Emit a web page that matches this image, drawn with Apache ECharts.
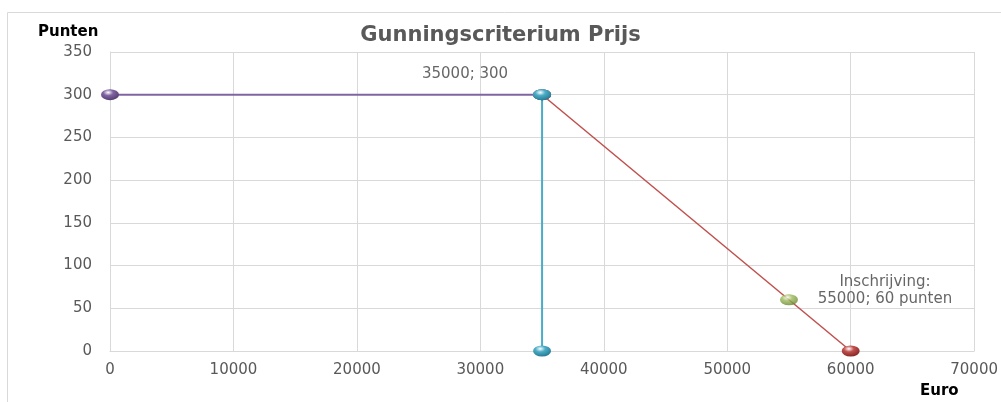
<!DOCTYPE html>
<html><head><meta charset="utf-8">
<script src="https://cdn.jsdelivr.net/npm/echarts@6/dist/echarts.min.js"></script>
<style>html,body{margin:0;padding:0;background:#fff}#c{width:1001px;height:402px}</style>
</head><body><div id="c"></div>
<script>
const title = 'Gunningscriterium Prijs';
const yName = 'Punten';
const xName = 'Euro';
const purpleLine = [[0, 300], [35000, 300]];
const cyanLine = [[35000, 300], [35000, 0]];
const redLine = [[35000, 300], [60000, 0]];
const bidPoint = [[55000, 60]];
const cornerLabel = '35000; 300';
const bidLabel = 'Inschrijving:\n55000; 60 punten';

const FONT = 'DejaVu Sans';
function ball(c1, c2) {
  return { type: 'radial', x: 0.4, y: 0.3, r: 0.8,
    colorStops: [{offset: 0, color: '#ffffff'}, {offset: 0.35, color: c1}, {offset: 1, color: c2}] };
}
const chart = echarts.init(document.getElementById('c'));
chart.setOption({
  animation: false,
  graphic: [{ type: 'rect', shape: {x: 7.5, y: 12.5, width: 1100, height: 500},
    style: {fill: 'none', stroke: '#D9D9D9', lineWidth: 1}, silent: true },
    { type: 'text', left: 38, top: 25, style: {text: yName, font: 'bold 15px ' + FONT, fill: '#000'} },
    { type: 'text', left: 920, top: 384, style: {text: xName, font: 'bold 15px ' + FONT, fill: '#000'} }],
  title: { text: title, left: 'center', top: 20,
    textStyle: { fontFamily: FONT, fontSize: 21, fontWeight: 'bold', color: '#595959' } },
  grid: { left: 110, right: 25, top: 52, bottom: 51, containLabel: false },
  xAxis: { type: 'value', min: 0, max: 70000, interval: 10000,
    axisLine: { show: true, lineStyle: { color: '#D9D9D9' } },
    axisTick: { show: false },
    splitLine: { show: true, lineStyle: { color: '#D9D9D9' } },
    axisLabel: { fontFamily: FONT, fontSize: 15, color: '#595959', margin: 12,
      formatter: v => String(v) } },
  yAxis: { type: 'value', min: 0, max: 350, interval: 50,
    axisLine: { show: true, lineStyle: { color: '#D9D9D9' } },
    axisTick: { show: false },
    splitLine: { show: true, lineStyle: { color: '#D9D9D9' } },
    axisLabel: { fontFamily: FONT, fontSize: 15, color: '#595959', margin: 18 } },
  series: [
    { type: 'line', data: purpleLine, symbol: 'circle', symbolSize: [18, 11],
      lineStyle: { color: '#8064A2', width: 2 }, itemStyle: { color: ball('#8064A2', '#4B3568') } },
    { type: 'line', data: cyanLine, symbol: 'circle', symbolSize: [18, 11],
      lineStyle: { color: '#4BACC6', width: 2 }, itemStyle: { color: ball('#4BACC6', '#1F7188') } },
    { type: 'line', data: redLine, symbol: 'circle', symbolSize: [18, 11], z: 1,
      lineStyle: { color: '#C0504D', width: 1.5 }, itemStyle: { color: ball('#C0504D', '#7A1F1D') } },
    { type: 'scatter', data: [cyanLine[0]], symbol: 'circle', symbolSize: [18, 11], z: 5,
      itemStyle: { color: ball('#4BACC6', '#1F7188') },
      label: { show: true, formatter: cornerLabel, position: 'inside', offset: [-77, -21],
        fontFamily: FONT, fontSize: 15, color: '#404040' } },
    { type: 'scatter', data: bidPoint, symbol: 'circle', symbolSize: [18, 11], z: 5,
      itemStyle: { color: ball('#9BBB59', '#5E7A28') },
      label: { show: true, formatter: bidLabel, position: 'inside', offset: [96, -9], align: 'center',
        lineHeight: 17, fontFamily: FONT, fontSize: 15, color: '#404040' } }
  ]
});
</script></body></html>
